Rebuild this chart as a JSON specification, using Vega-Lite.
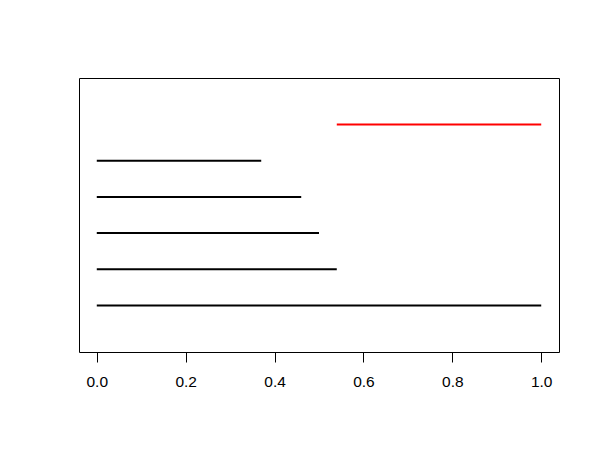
{
  "$schema": "https://vega.github.io/schema/vega-lite/v6.json",
  "width": 480,
  "height": 274,
  "autosize": {"type": "none"},
  "padding": {"left": 79, "top": 78, "right": 41, "bottom": 98},
  "background": "white",
  "config": {
    "view": {"stroke": "black", "strokeWidth": 1},
    "axis": {"grid": false}
  },
  "data": {
    "values": [
      {"y": 1, "x1": 0, "x2": 1.0, "c": "black"},
      {"y": 2, "x1": 0, "x2": 0.54, "c": "black"},
      {"y": 3, "x1": 0, "x2": 0.50, "c": "black"},
      {"y": 4, "x1": 0, "x2": 0.46, "c": "black"},
      {"y": 5, "x1": 0, "x2": 0.37, "c": "black"},
      {"y": 6, "x1": 0.54, "x2": 1.0, "c": "red"}
    ]
  },
  "mark": {"type": "rule", "strokeWidth": 2},
  "encoding": {
    "x": {
      "field": "x1", "type": "quantitative",
      "scale": {"domain": [-0.04, 1.04], "nice": false, "zero": false},
      "axis": {
        "title": null, "domain": false,
        "values": [0, 0.2, 0.4, 0.6, 0.8, 1.0],
        "format": ".1f",
        "tickSize": 10, "tickColor": "black", "tickWidth": 1,
        "labelFont": "Liberation Sans", "labelFontSize": 15.5, "labelColor": "black",
        "labelBaseline": "alphabetic", "labelPadding": 24
      }
    },
    "x2": {"field": "x2"},
    "y": {
      "field": "y", "type": "quantitative",
      "scale": {"domain": [-0.28, 7.28], "nice": false, "zero": false},
      "axis": null
    },
    "color": {"field": "c", "type": "nominal", "scale": {"range": ["black", "red"], "domain": ["black", "red"]}, "legend": null}
  }
}
